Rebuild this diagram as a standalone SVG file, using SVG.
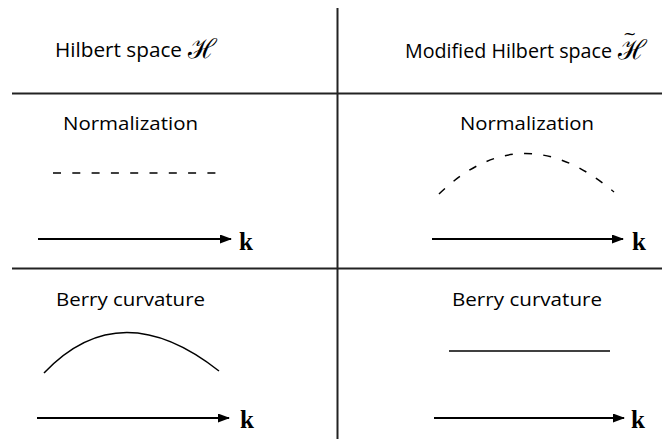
<svg xmlns="http://www.w3.org/2000/svg" width="670" height="439" viewBox="0 0 670 439">
<style>
.lbl{font-family:"Open Sans",Lato,"Liberation Sans",sans-serif;font-size:19px;fill:#000}
.hdr{font-size:20px}
.scr{font-family:"DejaVu Serif","Noto Sans",serif;font-style:italic;font-size:27px;fill:#000}
.til{font-family:"DejaVu Serif",serif;font-style:normal;font-size:16px}
.k{font-family:"Liberation Serif","Times New Roman",serif;font-weight:bold;font-size:25px;fill:#000}
.grid{stroke:#222;stroke-width:2;fill:none}
.axis{stroke:#000;stroke-width:2;fill:none;marker-end:url(#ah)}
.curve{stroke:#000;stroke-width:1.5;fill:none}
.dash{stroke:#000;stroke-width:1.5;fill:none;stroke-dasharray:8 11.3}
</style>
<defs>
<marker id="ah" markerWidth="12" markerHeight="9" refX="11" refY="4.5" orient="auto" markerUnits="userSpaceOnUse">
<path d="M0,0 L12,4.5 L0,9 Z" fill="#000"/>
</marker>
</defs>
<rect width="670" height="439" fill="#fff"/>
<g id="grid">
<line class="grid" x1="337.5" y1="8" x2="337.5" y2="439"/>
<line class="grid" x1="12" y1="93.5" x2="662" y2="93.5"/>
<line class="grid" x1="12" y1="268.5" x2="662" y2="268.5"/>
</g>
<g id="header-left">
<text class="lbl hdr" x="55" y="57" textLength="127" lengthAdjust="spacingAndGlyphs">Hilbert space</text>
<text class="scr" x="188" y="58">ℋ</text>
</g>
<g id="header-right">
<text class="lbl hdr" x="405" y="58" textLength="207" lengthAdjust="spacingAndGlyphs">Modified Hilbert space</text>
<text class="scr" x="618" y="59">ℋ<tspan class="til" x="623" y="39">~</tspan></text>
</g>
<g id="norm-left">
<text class="lbl" x="63" y="130" textLength="135" lengthAdjust="spacingAndGlyphs">Normalization</text>
<line class="dash" x1="53" y1="173" x2="216" y2="173"/>
</g>
<g id="norm-right">
<text class="lbl" x="460" y="130" textLength="134" lengthAdjust="spacingAndGlyphs">Normalization</text>
<path class="dash" d="M439,194 Q522,114 614,192"/>
</g>
<g id="berry-left">
<text class="lbl" x="56" y="306" textLength="149" lengthAdjust="spacingAndGlyphs">Berry curvature</text>
<path class="curve" d="M44,373 Q120,293 219,371"/>
</g>
<g id="berry-right">
<text class="lbl" x="452" y="306" textLength="150" lengthAdjust="spacingAndGlyphs">Berry curvature</text>
<line class="curve" x1="449" y1="351" x2="610" y2="351"/>
</g>
<g id="connectors">
<line class="axis" x1="38" y1="239" x2="231" y2="239"/>
<line class="axis" x1="432" y1="239" x2="623" y2="239"/>
<line class="axis" x1="37" y1="418" x2="229" y2="418"/>
<line class="axis" x1="434" y1="418" x2="624" y2="418"/>
</g>
<g id="k-labels">
<text class="k" x="239" y="250">k</text>
<text class="k" x="632" y="250">k</text>
<text class="k" x="240" y="428">k</text>
<text class="k" x="631" y="428">k</text>
</g>
</svg>
